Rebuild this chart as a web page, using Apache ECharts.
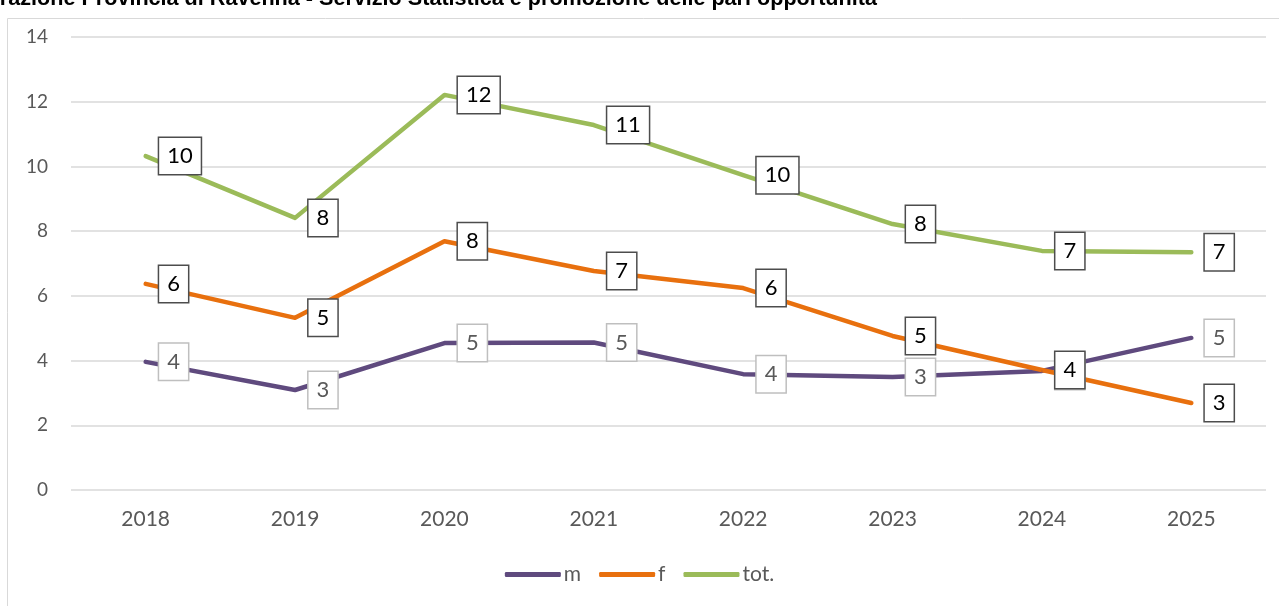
<!DOCTYPE html>
<html>
<head>
<meta charset="utf-8">
<script src="https://cdn.jsdelivr.net/npm/echarts@6/dist/echarts.min.js"></script>
<style>
html,body{margin:0;padding:0;background:#fff;}
#c{width:1279px;height:606px;}
</style>
</head>
<body>
<div id="c"></div>
<script>
const categories = ['2018','2019','2020','2021','2022','2023','2024','2025'];
const mValues = [3.96, 3.09, 4.54, 4.56, 3.58, 3.49, 3.68, 4.70];
const fValues = [6.37, 5.32, 7.69, 6.77, 6.24, 4.76, 3.71, 2.69];
const totValues = [10.32, 8.41, 12.21, 11.28, 9.73, 8.22, 7.39, 7.35];
const titleText = 'Elaborazione Provincia di Ravenna - Servizio Statistica e promozione delle pari opportunità';

const FONT = 'Lato';
function lbl(dark){
  return {
    show: true, position: 'right', distance: 13,
    formatter: p => Math.round(p.value),
    fontFamily: FONT, fontSize: 22,
    color: dark ? '#000' : '#595959',
    backgroundColor: '#fff',
    borderColor: dark ? '#4d4d4d' : '#bfbfbf',
    borderWidth: 1.5,
    padding: [8, 8, 6, 8]
  };
}
function series(name, data, color, dark){
  return {
    name, type: 'line', data, symbol: 'circle', symbolSize: 1, showSymbol: true,
    lineStyle: {color, width: 4.5, cap: 'round', join: 'round'},
    itemStyle: {color},
    emphasis: {disabled: true},
    label: lbl(dark)
  };
}
const chart = echarts.init(document.getElementById('c'), null, {renderer: 'canvas'});
chart.setOption({
  animation: false,
  graphic: [
    {type: 'rect', shape: {x: 7.5, y: 18.5, width: 1300, height: 620}, style: {fill: 'none', stroke: '#d9d9d9', lineWidth: 1}},
    {type: 'text', x: -59, y: 10, style: {text: titleText, fontFamily: 'Liberation Sans', fontWeight: 'bold', fontSize: 21.6, fill: '#000', verticalAlign: 'bottom', align: 'left'}}
  ],
  grid: {left: 71, right: 13, top: 37, bottom: 116, containLabel: false},
  xAxis: {
    type: 'category', data: categories, boundaryGap: true,
    axisLine: {show: false}, axisTick: {show: false},
    axisLabel: {fontFamily: FONT, fontSize: 21, color: '#595959', margin: 19}
  },
  yAxis: {
    type: 'value', min: 0, max: 14, interval: 2,
    axisLine: {show: false}, axisTick: {show: false},
    splitLine: {lineStyle: {color: '#d9d9d9', width: 1.5}},
    axisLabel: {fontFamily: FONT, fontSize: 19, color: '#595959', margin: 23}
  },
  legend: {
    bottom: 16, left: 'center', itemWidth: 56, itemHeight: 5, itemGap: 18,
    icon: 'roundRect',
    textStyle: {fontFamily: FONT, fontSize: 21, color: '#595959', padding: [0,0,0,-2]},
    data: ['m','f','tot.']
  },
  series: [
    series('m', mValues, '#5F4A7E', false),
    series('f', fValues, '#E8700E', true),
    series('tot.', totValues, '#9BBB59', true)
  ]
});
</script>
</body>
</html>
